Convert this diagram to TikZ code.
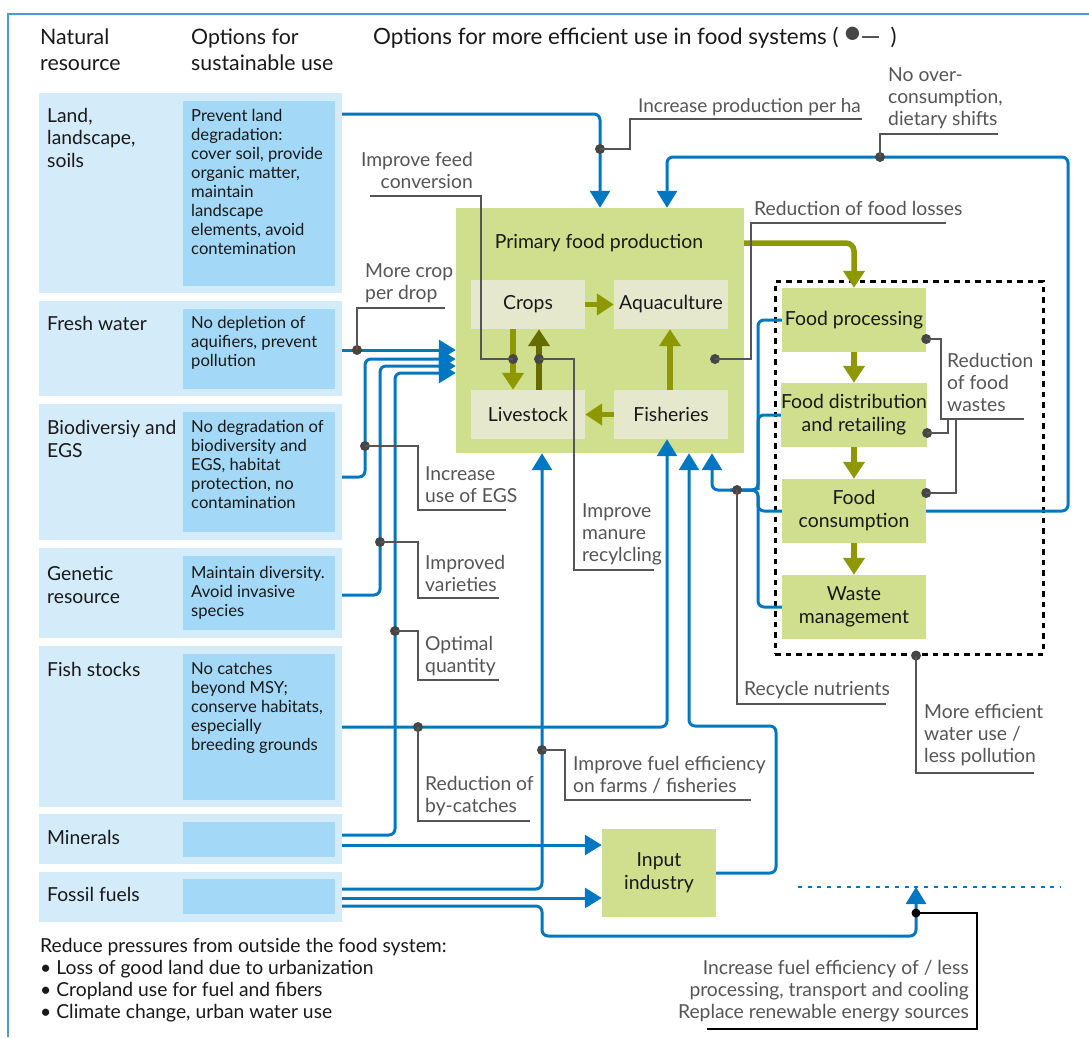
\documentclass[tikz,border=0pt]{standalone}
\usepackage{fontspec}
\setmainfont{Lato}
\usetikzlibrary{arrows.meta,positioning,calc}
\definecolor{framebl}{RGB}{74,155,210}
\definecolor{rowbg}{RGB}{212,235,250}
\definecolor{rowin}{RGB}{163,216,246}
\definecolor{fsgreen}{RGB}{208,223,142}
\definecolor{fsbeige}{RGB}{230,232,206}
\definecolor{olive}{RGB}{142,152,0}
\definecolor{darkolive}{RGB}{100,108,0}
\definecolor{flowblue}{RGB}{0,119,192}
\definecolor{annot}{RGB}{85,85,85}
\definecolor{dotgray}{RGB}{70,70,70}
\definecolor{txt}{RGB}{25,25,25}

\begin{document}
\begin{tikzpicture}[x=1pt, y=-1pt,
    resbox/.style={fill=rowbg, minimum width=303pt, inner sep=0pt},
    optbox/.style={fill=rowin, minimum width=152pt, inner sep=0pt},
    hdtxt/.style={anchor=base west, align=left, inner sep=0pt, text=txt, font=\fontsize{21.3}{26}\selectfont},
    resname/.style={anchor=base west, align=left, inner sep=0pt, text=txt, font=\fontsize{19.3}{22.3}\selectfont},
    opttxt/.style={anchor=base west, align=left, inner sep=0pt, text=txt, font=\fontsize{16.6}{19.1}\selectfont},
    fsbox/.style={fill=fsgreen, inner sep=0pt, align=center, text=txt, font=\fontsize{19.4}{23}\selectfont},
    subbox/.style={fill=fsbeige, minimum width=114pt, minimum height=49pt, inner sep=0pt, text=txt, font=\fontsize{19.4}{22}\selectfont},
    notetxt/.style={anchor=base west, align=left, inner sep=0pt, text=annot, font=\fontsize{19.3}{22}\selectfont},
    optdot/.style={circle, fill=dotgray, minimum size=10pt, inner sep=0pt},
    bluepath/.style={draw=flowblue, line width=3pt, rounded corners=6pt},
    bluearrow/.style={bluepath, -{Triangle[width=20pt,length=17pt]}},
    olivearrow/.style={draw=olive, line width=5.5pt, -{Triangle[width=21pt,length=17pt]}},
    leader/.style={draw=annot, line width=1.4pt}]
\useasboundingbox (0,0) rectangle (1089,1037);
\draw[framebl, line width=2pt] (8,1037) -- (8,14) -- (1089,14);

\node[hdtxt] (hres) at (40,70) {Natural\\resource};
\node[hdtxt] (hopt) at (191,70) {Options for\\sustainable use};
\node[hdtxt, font=\fontsize{22.4}{26}\selectfont] (heff) at (373,44) {Options for more efficient use in food systems (\,\textcolor{dotgray}{\scalebox{1.6}{\textbullet}}\kern-1pt\textcolor{annot}{\rule[6.5pt]{17pt}{1.4pt}}\ \ )};

\node[resbox, minimum height=200pt] (rland) at (190.5,193) {};
\node[optbox, minimum height=185pt] (oland) at (259,193.5) {};
\node[resbox, minimum height=95pt] (rfresh) at (190.5,348.5) {};
\node[optbox, minimum height=80pt] (ofresh) at (259,349) {};
\node[resbox, minimum height=136pt] (rbio) at (190.5,472) {};
\node[optbox, minimum height=120pt] (obio) at (259,472) {};
\node[resbox, minimum height=90pt] (rgen) at (190.5,593) {};
\node[optbox, minimum height=74pt] (ogen) at (259,593) {};
\node[resbox, minimum height=161pt] (rfish) at (190.5,726.5) {};
\node[optbox, minimum height=146pt] (ofish) at (259,727) {};
\node[resbox, minimum height=50pt] (rmin) at (190.5,839) {};
\node[optbox, minimum height=35pt] (omin) at (259,839.5) {};
\node[resbox, minimum height=50pt] (rfossil) at (190.5,897) {};
\node[optbox, minimum height=35pt] (ofossil) at (259,896.5) {};

\node[resname] (tland) at (47,167) {Land,\\landscape,\\soils};
\node[resname] (tfresh) at (47,330) {Fresh water};
\node[resname] (tbio) at (47,457) {Biodiversiy and\\EGS};
\node[resname] (tgen) at (47,603) {Genetic\\resource};
\node[resname] (tfish) at (47,676) {Fish stocks};
\node[resname] (tmin) at (47,844) {Minerals};
\node[resname] (tfossil) at (47,901) {Fossil fuels};

\node[opttxt] (pland) at (191,254.7) {Prevent land\\degradation:\\cover soil, provide\\organic matter,\\maintain\\landscape\\elements, avoid\\contemination};
\node[opttxt] (pfresh) at (191,366.2) {No depletion of\\aquifiers, prevent\\pollution};
\node[opttxt] (pbio) at (191,508.4) {No degradation of\\biodiversity and\\EGS, habitat\\protection, no\\contamination};
\node[opttxt] (pgen) at (191,616.2) {Maintain diversity.\\Avoid invasive\\species};
\node[opttxt] (pfish) at (191,750.4) {No catches\\beyond MSY;\\conserve habitats,\\especially\\breeding grounds};

\node[resname] (npress) at (40,1018.9) {Reduce pressures from outside the food system:\\\textbullet\ Loss of good land due to urbanization\\\textbullet\ Cropland use for fuel and fibers\\\textbullet\ Climate change, urban water use};

\node[fsbox, minimum width=288pt, minimum height=245pt] (pfp) at (600,330.5) {};
\node[fsbox, anchor=base, fill=none] (pfptitle) at (599,248) {Primary food production};
\node[subbox] (crops) at (528,304.5) {Crops};
\node[subbox] (aqua) at (671,304.5) {Aquaculture};
\node[subbox] (livestock) at (528,414.5) {Livestock};
\node[subbox] (fisheries) at (671,414.5) {Fisheries};

\node[draw, line width=3pt, dash pattern=on 5.5pt off 5pt, minimum width=268pt, minimum height=373pt, inner sep=0pt] (fsframe) at (909,467.5) {};
\node[fsbox, minimum width=144pt, minimum height=64pt] (fproc) at (854,320) {Food processing};
\node[fsbox, minimum width=144pt, minimum height=64pt] (fdist) at (854,415) {Food distribution\\and retailing};
\node[fsbox, minimum width=144pt, minimum height=64pt] (fcons) at (854,511) {Food\\consumption};
\node[fsbox, minimum width=144pt, minimum height=64pt] (waste) at (854,607) {Waste\\management};
\node[fsbox, minimum width=114pt, minimum height=88pt] (inputind) at (659,873) {Input\\industry};

\coordinate (effl) at (798,887);
\coordinate (effr) at (1060,887);
\draw[flowblue, line width=2.5pt, dash pattern=on 4pt off 5.7pt] (effl) -- (effr);

\draw[bluearrow] (rland.east |- 0,114) -| (pfp.north -| 600,0);
\draw[bluearrow] (fcons.east) -| (1068,157) -| (pfp.north -| 667,0);
\draw[bluearrow] (rfresh.east |- 0,350) -- (pfp.west |- 0,350);
\draw[bluearrow] (rbio.east |- 0,477) -| (365,359) -- (pfp.west |- 0,359);
\draw[bluearrow] (rgen.east |- 0,595) -| (380,366) -- (pfp.west |- 0,366);
\draw[bluearrow] (rmin.east |- 0,835) -| (395,373) -- (pfp.west |- 0,373);
\draw[bluearrow] (rfish.east |- 0,727) -| (fisheries.south -| 667,0);
\draw[bluearrow] (rfossil.east |- 0,889) -| (pfp.south -| 542,0);
\draw[bluearrow] (rmin.east |- 0,845) -- (inputind.west |- 0,845);
\draw[bluearrow] (rfossil.east |- 0,898) -- (inputind.west |- 0,898);
\draw[bluearrow] (rfossil.east |- 0,906) -| (542,936) -| (effl -| 916,0);
\draw[bluearrow] (inputind.east) -| (776,726) -| (pfp.south -| 689,0);
\draw[bluearrow] (fproc.west) -| (758,490) -| (pfp.south -| 712,0);
\draw[bluepath] (fdist.west) -| (758,490);
\draw[bluepath] (fcons.west) -| (758,490) -- (730,490);
\draw[bluepath] (waste.west) -| (758,490) -- (730,490);

\draw[olivearrow, rounded corners=8pt] (pfp.east |- 0,243) -| (fproc.north);
\draw[olivearrow] (fproc.south) -- (fdist.north);
\draw[olivearrow] (fdist.south) -- (fcons.north);
\draw[olivearrow] (fcons.south) -- (waste.north);
\draw[olivearrow] (crops.east) -- (aqua.west);
\draw[olivearrow] (crops.south -| 513,0) -- (livestock.north -| 513,0);
\draw[olivearrow, draw=darkolive] (livestock.north -| 539,0) -- (crops.south -| 539,0);
\draw[olivearrow] (fisheries.north -| 670,0) -- (aqua.south -| 670,0);
\draw[olivearrow] (fisheries.west) -- (livestock.east);

\node[optdot] (dprod) at (600,149) {};
\draw[leader] (dprod.center) -| (630,119) -- (862,119);
\node[notetxt, font=\fontsize{19}{22}\selectfont] (nprod) at (638,112) {Increase production per ha};
\node[optdot] (ddiet) at (880,157) {};
\draw[leader] (ddiet.center) |- (998,134);
\node[notetxt] (ndiet) at (888,125) {No over-\\consumption,\\dietary shifts};
\node[optdot] (dfeed) at (513,359) {};
\draw[leader] (dfeed.center) -| (481,196) -- (370,196);
\node[notetxt, anchor=base east, align=right] (nfeed) at (473,188) {Improve feed\\conversion};
\node[optdot] (dmanure) at (539,359) {};
\draw[leader] (dmanure.center) -| (574,570) -- (654,570);
\node[notetxt] (nmanure) at (582,561) {Improve\\manure\\recylcling};
\node[optdot] (dloss) at (715,359) {};
\draw[leader] (dloss.center) -| (751,223) -- (946,223);
\node[notetxt] (nloss) at (754,215) {Reduction of food losses};
\node[optdot] (dwproc) at (fproc.east |- 0,339) {};
\node[optdot] (dwdist) at (fdist.east |- 0,433) {};
\node[optdot] (dwcons) at (fcons.east |- 0,493) {};
\draw[leader] (dwproc.center) -| (941,419) -- (1024,419);
\draw[leader] (dwdist.center) -| (948,419);
\draw[leader] (dwcons.center) -| (956,419);
\node[notetxt] (nwaste) at (947,411) {Reduction\\of food\\wastes};
\node[optdot] (dwater) at (fsframe.south -| 916,0) {};
\draw[leader] (dwater.center) |- (1034,773);
\node[notetxt] (nwater) at (924,762) {More efficient\\water use /\\less pollution};
\node[optdot] (dcrop) at (357,350) {};
\draw[leader] (dcrop.center) |- (445,308);
\node[notetxt] (ncrop) at (365,299) {More crop\\per drop};
\node[optdot] (degs) at (365,446) {};
\draw[leader] (degs.center) -| (418,510) -- (506,510);
\node[notetxt] (negs) at (425,502) {Increase\\use of EGS};
\node[optdot] (dvar) at (380,542) {};
\draw[leader] (dvar.center) -| (418,598) -- (499,598);
\node[notetxt] (nvar) at (425,591) {Improved\\varieties};
\node[optdot] (dqty) at (395,631) {};
\draw[leader] (dqty.center) -| (418,680) -- (499,680);
\node[notetxt] (nqty) at (425,672) {Optimal\\quantity};
\node[optdot] (dbycatch) at (418,727) {};
\draw[leader] (dbycatch.center) |- (530,821);
\node[notetxt] (nbycatch) at (425,812) {Reduction of\\by-catches};
\node[optdot] (dfuel) at (542,750) {};
\draw[leader] (dfuel.center) -| (565,800) -- (751,800);
\node[notetxt] (nfuel) at (573,792) {Improve fuel efficiency\\on farms / fisheries};
\node[optdot] (drecycle) at (737,490) {};
\draw[leader] (drecycle.center) |- (886,704);
\node[notetxt] (nrecycle) at (744,695) {Recycle nutrients};
\node[optdot, fill=black, minimum size=9pt] (denergy) at (916,913) {};
\draw[leader, draw=black, line width=1.2pt] (denergy.center) -| (977,1029) -- (707,1029);
\node[notetxt, anchor=base east, align=right] (nenergy) at (969,1018) {Increase fuel efficiency of / less\\processing, transport and cooling\\Replace renewable energy sources};
\end{tikzpicture}
\end{document}
